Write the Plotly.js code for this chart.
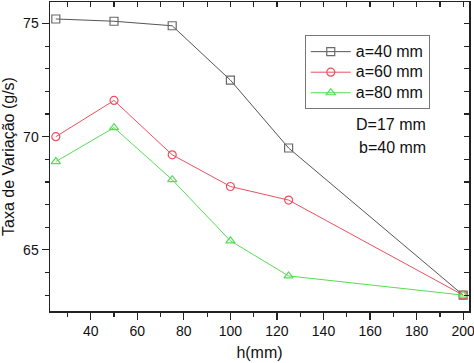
<!DOCTYPE html>
<html>
<head>
<meta charset="utf-8">
<script src="https://cdn.plot.ly/plotly-3.0.1.min.js"></script>
<style>html,body{margin:0;padding:0;background:#fff;}#chart{width:474px;height:363px;}</style>
</head>
<body>
<div id="chart"></div>
<script>
const h = [25, 50, 75, 100, 125, 200];
const a40 = [75.2, 75.1, 74.9, 72.5, 69.5, 63.0];
const a60 = [70.0, 71.6, 69.2, 67.8, 67.2, 63.0];
const a80 = [68.9, 70.4, 68.1, 65.4, 63.85, 63.0];
const seriesNames = ['a=40 mm', 'a=60 mm', 'a=80 mm'];
const notes = ['D=17 mm', 'b=40 mm'];
const xTitle = 'h(mm)';
const yTitle = 'Taxa de Variação (g/s)';

const FONT = 'Liberation Sans, Arial, sans-serif';
function tr(y, name, color, symbol, lc) {
  return {x: h, y: y, name: '<span style="font-size:16px">' + name + '</span>', type: 'scatter', mode: 'lines+markers',
    line: {color: lc, width: 1},
    marker: {symbol: symbol, size: 8, color: color, line: {color: color, width: 1.2}}};
}
const data = [
  tr(a40, seriesNames[0], '#6a6a6a', 'square-open', '#555555'),
  tr(a60, seriesNames[1], '#ee4f5f', 'circle-open', '#ee4f5f'),
  tr(a80, seriesNames[2], '#55dd55', 'triangle-up-open', '#55dd55'),
  {x: [], y: [], xaxis: 'x2', yaxis: 'y2', showlegend: false, hoverinfo: 'skip', type: 'scatter'}
];
const xr = [22.5, 202.5], yr = [62.3, 75.95];
const layout = {
  width: 474, height: 363,
  margin: {l: 50, r: 5, t: 2, b: 52},
  paper_bgcolor: '#fff', plot_bgcolor: '#fff',
  font: {family: FONT, size: 14, color: '#111'},
  showlegend: true,
  legend: {x: 0.608, y: 0.892, xanchor: 'left', yanchor: 'top', bgcolor: '#fff',
    bordercolor: '#777', borderwidth: 1, font: {family: FONT, size: 13.5, color: '#111'},
    tracegroupgap: 0, itemwidth: 40},
  xaxis: {range: xr, automargin: false, showgrid: false, zeroline: false, showline: true, linecolor: '#222', linewidth: 1.5,
    tickmode: 'linear', tick0: 0, dtick: 20, ticks: 'outside', ticklen: 7, tickwidth: 1.2, tickcolor: '#222',
    ticklabeloverflow: 'allow',
    minor: {dtick: 10, tick0: 0, ticks: 'outside', ticklen: 4, tickwidth: 1.2, tickcolor: '#222', showgrid: false},
    tickfont: {size: 14, family: FONT},
    title: {text: xTitle, font: {size: 16, family: FONT}, standoff: 8}},
  yaxis: {range: yr, automargin: false, showgrid: false, zeroline: false, showline: true, linecolor: '#222', linewidth: 1.5,
    tickmode: 'linear', tick0: 0, dtick: 5, ticks: 'outside', ticklen: 7, tickwidth: 1.2, tickcolor: '#222',
    minor: {dtick: 1, tick0: 0, ticks: 'outside', ticklen: 4, tickwidth: 1.2, tickcolor: '#222', showgrid: false},
    tickfont: {size: 14, family: FONT},
    title: {text: yTitle, font: {size: 16, family: FONT}, standoff: 6}},
  xaxis2: {overlaying: 'x', side: 'top', anchor: 'y2', range: xr, automargin: false, showgrid: false, zeroline: false,
    showline: true, linecolor: '#222', linewidth: 1.5, showticklabels: false,
    tickmode: 'linear', tick0: 0, dtick: 10, ticks: 'inside', ticklen: 5, tickwidth: 1.2, tickcolor: '#222'},
  yaxis2: {overlaying: 'y', side: 'right', anchor: 'x2', range: yr, automargin: false, showgrid: false, zeroline: false,
    showline: true, linecolor: '#222', linewidth: 1.5, showticklabels: false,
    tickmode: 'linear', tick0: 0, dtick: 1, ticks: 'inside', ticklen: 5, tickwidth: 1.2, tickcolor: '#222'},
  annotations: [
    {text: notes[0], xref: 'paper', yref: 'paper', x: 0.902, y: 0.604, xanchor: 'right', yanchor: 'middle', showarrow: false, font: {size: 16, family: FONT, color: '#111'}},
    {text: notes[1], xref: 'paper', yref: 'paper', x: 0.902, y: 0.53, xanchor: 'right', yanchor: 'middle', showarrow: false, font: {size: 16, family: FONT, color: '#111'}}
  ]
};
Plotly.newPlot('chart', data, layout, {staticPlot: true, displayModeBar: false});
</script>
</body>
</html>
